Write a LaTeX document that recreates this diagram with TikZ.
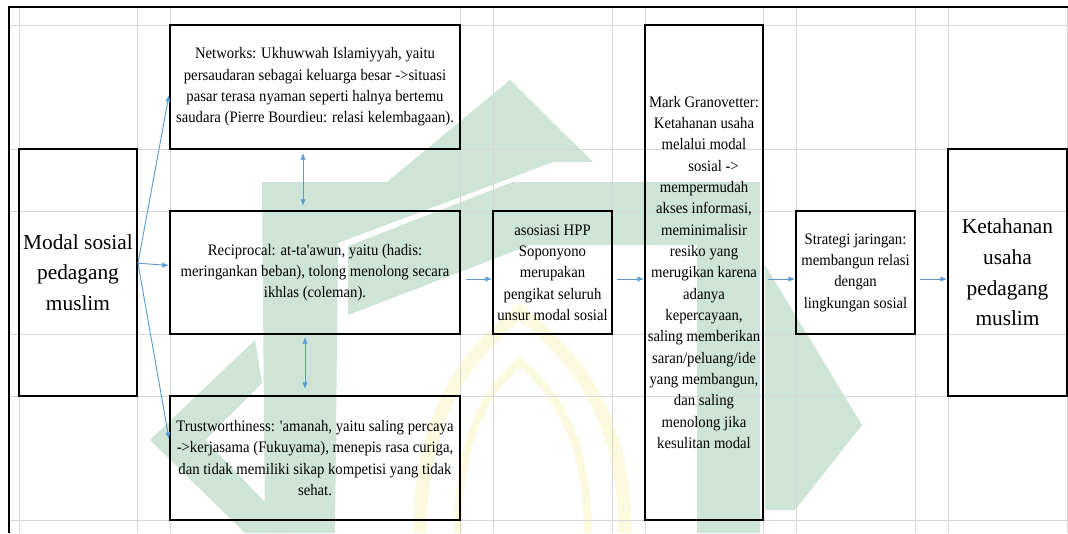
\documentclass[tikz,border=0pt]{standalone}
\usepackage{fontspec}
\setmainfont{Liberation Serif}
\newfontfamily\condfont[FakeStretch=0.92]{Liberation Serif}
\usetikzlibrary{arrows.meta}
\definecolor{gridc}{RGB}{214,214,214}
\definecolor{arr}{RGB}{91,155,213}
\definecolor{wmg}{RGB}{205,228,214}
\definecolor{wmy}{RGB}{252,250,222}
\tikzset{
  box/.style={draw=black, line width=1.5pt, inner sep=0pt, align=center},
  small/.style={font=\condfont\fontsize{12pt}{16pt}\selectfont},
  big/.style={font=\fontsize{16pt}{23pt}\selectfont},
  conn/.style={draw=arr, line width=0.7pt, -{Latex[length=5pt,width=4pt]}},
  dconn/.style={draw=arr, line width=0.7pt, {Latex[length=5pt,width=4pt]}-{Latex[length=5pt,width=4pt]}},
  gridl/.style={draw=gridc, line width=0.75pt},
  frameline/.style={draw=black, line width=1.4pt},
  wmgreen/.style={fill=wmg},
  wmyellow/.style={draw=wmy, line cap=butt}
}
\begin{document}
\begin{tikzpicture}[x=0.75pt,y=-0.75pt]
\useasboundingbox (0,0) rectangle (1068,533);
\fill[white] (0,0) rectangle (1068,533);
% watermark (logo)
\fill[wmgreen] (262,182) -- (387,182) -- (510,80) -- (593,162) -- (553,162) -- (338,243) -- (335,533) -- (265,533) -- cycle;
\fill[wmgreen] (348,246) -- (513,182) -- (760,182) -- (760,533) -- (697,533) -- (697,245) -- (530,245) -- (348,315) -- cycle;
\fill[wmgreen] (255,340) -- (150,440) -- (245,533) -- (295,533) -- (205,440) -- (262,383) -- cycle;
\fill[wmgreen] (765,265) -- (862,425) -- (795,510) -- (765,510) -- cycle;
\draw[wmyellow, line width=10pt] (420,533) .. controls (420,400) and (480,345) .. (520,312) .. controls (560,345) and (625,400) .. (625,533);
\draw[wmyellow, line width=6pt] (458,533) .. controls (458,430) and (492,385) .. (520,362) .. controls (548,385) and (588,430) .. (588,533);
% grid
\foreach \gx in {19,137,170,460,493,612,645,763,796,915,948,1067}
  \draw[gridl] (\gx,7) -- (\gx,533);
\foreach \gy in {25,149,211,334,396,520}
  \draw[gridl] (9,\gy) -- (1068,\gy);
% frame
\draw[frameline] (9,533) -- (9,7) -- (1068,7);
% boxes
\node[box, big, minimum width=88.5pt, minimum height=185.25pt] (modal) at (78,272.5)
  {Modal sosial\\pedagang\\muslim};
\node[box, small, minimum width=217.5pt, minimum height=93pt] (net) at (315,87)
  {Networks: Ukhuwwah Islamiyyah, yaitu\\persaudaran sebagai keluarga besar ->situasi\\pasar terasa nyaman seperti halnya bertemu\\saudara (Pierre Bourdieu: relasi kelembagaan).};
\node[box, small, minimum width=217.5pt, minimum height=92.25pt] (rec) at (315,272.5)
  {Reciprocal: at-ta\textquotesingle awun, yaitu (hadis:\\meringankan beban), tolong menolong secara\\ikhlas (coleman).};
\node[box, small, minimum width=217.5pt, minimum height=93pt] (tru) at (315,458)
  {Trustworthiness: \textquotesingle amanah, yaitu saling percaya\\->kerjasama (Fukuyama), menepis rasa curiga,\\dan tidak memiliki sikap kompetisi yang tidak\\sehat.};
\node[box, small, minimum width=89.25pt, minimum height=92.25pt] (aso) at (552.5,272.5)
  {asosiasi HPP\\Soponyono\\merupakan\\pengikat seluruh\\unsur modal sosial};
\node[box, small, minimum width=88.5pt, minimum height=371.25pt] (mark) at (704,272.5)
  {Mark Granovetter:\\Ketahanan usaha\\melalui modal\\\hspace{1.2em}sosial ->\\mempermudah\\akses informasi,\\meminimalisir\\resiko yang\\merugikan karena\\adanya\\kepercayaan,\\saling memberikan\\saran/peluang/ide\\yang membangun,\\dan saling\\menolong jika\\kesulitan modal};
\node[box, small, minimum width=89.25pt, minimum height=92.25pt] (stra) at (855.5,272.5)
  {Strategi jaringan:\\membangun relasi\\dengan\\lingkungan sosial};
\node[box, big, minimum width=89.25pt, minimum height=185.25pt] (keta) at (1007.5,272.5)
  {Ketahanan\\usaha\\pedagang\\muslim};
% connectors
\coordinate (m0) at ([yshift=7pt]modal.east);
\draw[conn] (m0) -- ([yshift=-6pt]net.west);
\draw[conn] (m0) -- ([yshift=5.25pt]rec.west);
\draw[conn] (m0) -- ([yshift=14.25pt]tru.west);
\draw[dconn] ([xshift=-9pt,yshift=-2.2pt]net.south) -- ([xshift=-9pt,yshift=3pt]rec.north);
\draw[dconn] ([xshift=-7.5pt,yshift=-1.5pt]rec.south) -- ([xshift=-7.5pt,yshift=4.5pt]tru.north);
\draw[conn] ([xshift=3.75pt,yshift=-4.9pt]rec.east) -- ([yshift=-4.9pt]aso.west);
\draw[conn] ([xshift=3pt,yshift=-4.9pt]aso.east) -- ([yshift=-4.9pt]mark.west);
\draw[conn] ([xshift=3pt,yshift=-4.9pt]mark.east) -- ([yshift=-4.9pt]stra.west);
\draw[conn] ([xshift=3pt,yshift=-4.9pt]stra.east) -- ([yshift=-4.9pt]keta.west);
\end{tikzpicture}
\end{document}
